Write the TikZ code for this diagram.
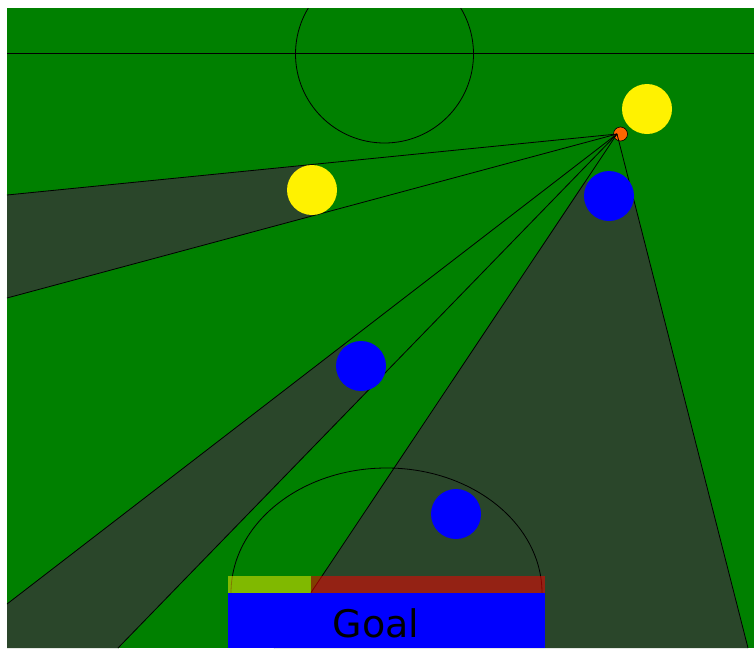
\documentclass[tikz,border=0pt]{standalone}
\usepackage{fontspec}
\setmainfont{DejaVu Sans}
\usetikzlibrary{calc}
\definecolor{field}{RGB}{0,128,0}
\definecolor{shade}{RGB}{42,70,42}
\definecolor{ballc}{RGB}{255,102,0}
\begin{document}
\begin{tikzpicture}[x=1pt,y=-1pt,
  player/.style={circle,minimum size=50pt,inner sep=0pt,draw=none},
  ray/.style={draw=black,line width=0.8pt},
  pitchline/.style={draw=black,line width=0.8pt},
  shadow/.style={fill=shade}]
\useasboundingbox (0,0) rectangle (754,648);
% field
\fill[field] (7,8) rectangle (754,648);
% positions
\coordinate (src) at (617,134);
\coordinate (cy1) at (647,109);
\coordinate (cy2) at (312,190);
\coordinate (cb1) at (609,196);
\coordinate (cb2) at (361,366);
\coordinate (cb3) at (456,514);
% ray ends
\coordinate (e1) at (7,195);
\coordinate (e2) at (7,298);
\coordinate (e3) at (7,604);
\coordinate (e4) at (118,648);
\coordinate (e5) at (274,648);
\coordinate (e6) at (748,648);
% shadows
\fill[shadow] (cy2) -- ($(src)!(cy2)!(e1)$) -- (e1) -- (e2) -- ($(src)!(cy2)!(e2)$) -- cycle;
\fill[shadow] (cb2) -- ($(src)!(cb2)!(e3)$) -- (e3) -- (7,648) -- (e4) -- ($(src)!(cb2)!(e4)$) -- cycle;
\fill[shadow] (cb1) -- ($(src)!(cb1)!(e5)$) -- (e5) -- (e6) -- ($(src)!(cb1)!(e6)$) -- cycle;
% pitch markings
\begin{scope}
  \clip (7,8) rectangle (754,648);
  \draw[pitchline] (384.5,54) circle[radius=89];
\end{scope}
\draw[pitchline] (7,53.5) -- (754,53.5);
\begin{scope}
  \clip (200,400) rectangle (600,593);
  \draw[pitchline] (386.5,593) ellipse[x radius=155.5,y radius=125];
\end{scope}
% ball
\node[circle,minimum size=14pt,inner sep=0pt,fill=ballc,draw=black,line width=0.6pt] (ball) at (620.5,134) {};
% rays
\foreach \e in {e1,e2,e3,e4,e5,e6} \draw[ray] (src) -- (\e);
% players
\node[player,fill=yellow] (y1) at (cy1) {};
\node[player,fill=yellow] (y2) at (cy2) {};
\node[player,fill=blue] (b1) at (cb1) {};
\node[player,fill=blue] (b2) at (cb2) {};
\node[player,fill=blue] (b3) at (cb3) {};
% goal line bar
\fill[yellow,opacity=0.5] (228,576) rectangle (311,593);
\fill[red,opacity=0.5] (311,576) rectangle (545,593);
% goal
\fill[blue] (228,593) rectangle (545,648);
\node[anchor=base,inner sep=0pt,font=\fontsize{38}{40}\selectfont] (goaltext) at (376,637) {Goal};
\end{tikzpicture}
\end{document}
